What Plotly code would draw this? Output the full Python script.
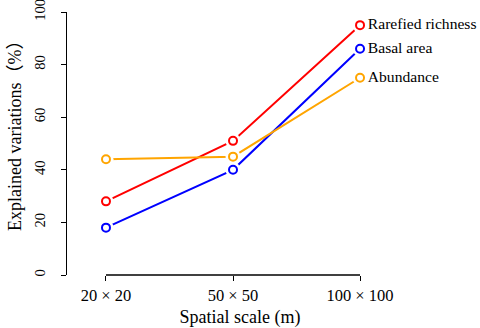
import plotly.graph_objects as go

scales = ["20 × 20", "50 × 50", "100 × 100"]
positions = [1, 2, 3]
series_names = ["Rarefied richness", "Basal area", "Abundance"]
rarefied = [28, 51, 95]
basal = [18, 40, 86]
abundance = [44, 45, 75]
colors = ["#FF0000", "#0000FF", "#FFA500"]
y_ticks = [0, 20, 40, 60, 80, 100]

values = [rarefied, basal, abundance]
font = "Liberation Serif, Times New Roman, Noto Sans CJK SC, serif"

fig = go.Figure()
# lines
for name, vals, c in zip(series_names, values, colors):
    fig.add_trace(go.Scatter(x=positions, y=vals, mode="lines",
                             line=dict(color=c, width=2), showlegend=False,
                             hoverinfo="skip"))
# white halos to create gaps (type="b" style)
for name, vals, c in zip(series_names, values, colors):
    fig.add_trace(go.Scatter(x=positions, y=vals, mode="markers",
                             marker=dict(color="white", size=15, line=dict(width=0)),
                             showlegend=False, hoverinfo="skip", cliponaxis=False))
# open circles
for name, vals, c in zip(series_names, values, colors):
    fig.add_trace(go.Scatter(x=positions, y=vals, mode="markers",
                             marker=dict(color="white", size=8, symbol="circle",
                                         line=dict(color=c, width=2)),
                             name=name, showlegend=False, cliponaxis=False))
# labels next to last points
for name, vals, c in zip(series_names, values, colors):
    fig.add_trace(go.Scatter(x=[positions[-1]], y=[vals[-1]], mode="text",
                             text=["\u2002" + name], textposition="middle right",
                             textfont=dict(family=font, size=15.6, color="black"),
                             showlegend=False, cliponaxis=False, hoverinfo="skip"))

# x axis line spanning first to last tick (R style)
fig.add_shape(type="line", xref="x", yref="paper", x0=positions[0], x1=positions[-1],
              y0=0, y1=0, line=dict(color="black", width=1.3))

fig.update_layout(
    width=480, height=328,
    margin=dict(l=67, r=67, t=12, b=53, autoexpand=False),
    plot_bgcolor="white", paper_bgcolor="white",
    font=dict(family=font, size=16, color="black"),
    xaxis=dict(range=[0.693, 3.417], tickmode="array", tickvals=positions,
               ticktext=scales, showline=False, showgrid=False, zeroline=False,
               ticks="outside", ticklen=5, tickwidth=1.3, tickcolor="black",
               tickfont=dict(family=font, size=16.5), automargin=False,
               title=dict(text="Spatial scale (m)", font=dict(family=font, size=18),
                          standoff=10)),
    yaxis=dict(range=[0, 100], tickmode="array", tickvals=y_ticks,
               showline=True, linecolor="black", linewidth=1.3, showgrid=False,
               zeroline=False, ticks="outside", ticklen=5, tickwidth=1.3,
               tickcolor="black", tickangle=-90, tickfont=dict(family=font, size=14.5),
               ticklabelstandoff=10, ticklabeloverflow="allow", automargin=False),
    annotations=[dict(text="Explained variations（%）", xref="paper", yref="paper",
                      x=(15 - 67) / 346.0, y=(275 - 132) / 263.0,
                      xanchor="center", yanchor="middle",
                      textangle=-90, showarrow=False,
                      font=dict(family=font, size=18, color="black"))],
)

fig.write_html("out.html")
